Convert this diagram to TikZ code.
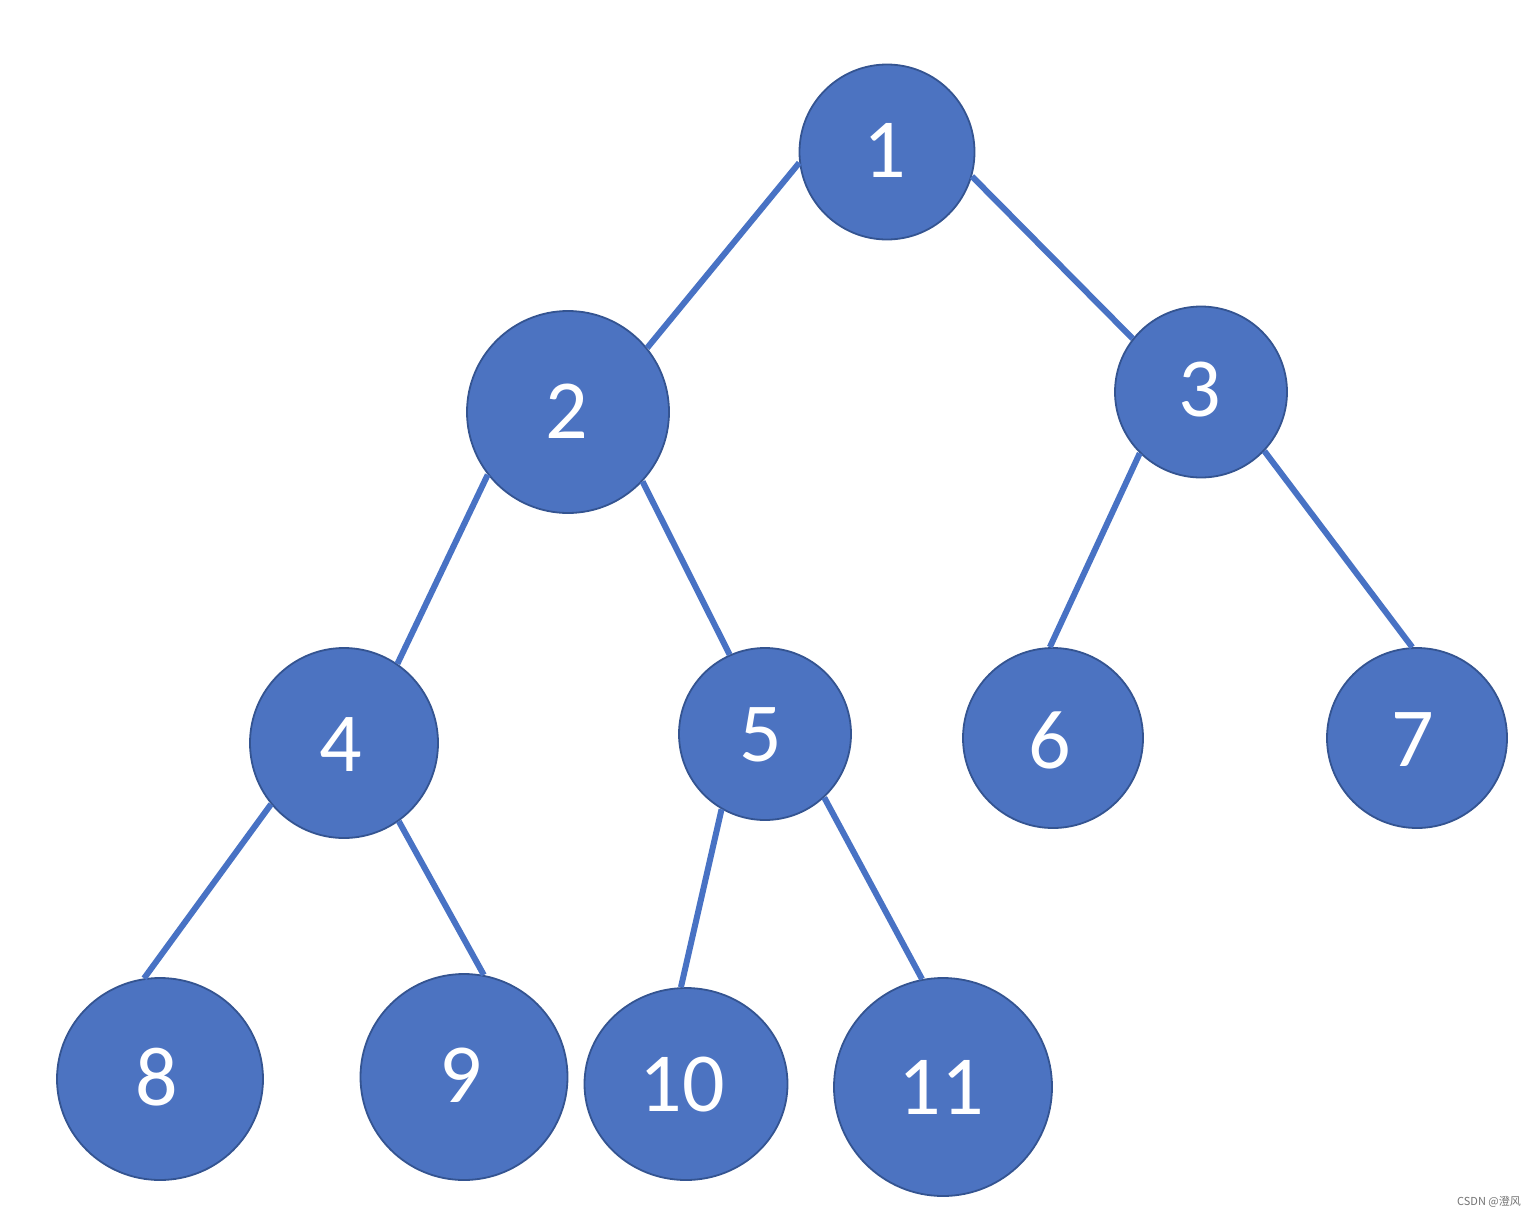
\documentclass[tikz,border=0pt]{standalone}
\usepackage{fontspec}
\setmainfont{Carlito}
\newfontfamily\cjk{Noto Sans CJK SC}
\usetikzlibrary{shapes.geometric}
\definecolor{nodefill}{RGB}{76,115,193}
\definecolor{nodeline}{RGB}{52,84,145}
\definecolor{edgecol}{RGB}{72,114,196}
\begin{document}
\begin{tikzpicture}[x=1pt,y=-1pt,
  tnode/.style={ellipse, fill=nodefill, draw=nodeline, line width=1.8pt, inner sep=0pt,
    text=white, font=\fontsize{84}{84}\selectfont},
  lbl/.style={text=white, font=\fontsize{84}{84}\selectfont, inner sep=0pt},
  edge/.style={draw=edgecol, line width=6pt}]
\useasboundingbox (0,0) rectangle (1536,1218);
\fill[white] (0,0) rectangle (1536,1218);
\node[tnode, minimum width=175pt, minimum height=175pt] (n1) at (887,152) {};
\node[tnode, minimum width=202pt, minimum height=202pt] (n2) at (568,412) {};
\node[tnode, minimum width=172pt, minimum height=171pt] (n3) at (1201,392) {};
\node[tnode, minimum width=188pt, minimum height=190pt] (n4) at (344,743) {};
\node[tnode, minimum width=172pt, minimum height=172pt] (n5) at (765,734) {};
\node[tnode, minimum width=180pt, minimum height=180pt] (n6) at (1053,738) {};
\node[tnode, minimum width=180pt, minimum height=180pt] (n7) at (1417,738) {};
\node[tnode, minimum width=206pt, minimum height=202pt] (n8) at (160,1079) {};
\node[tnode, minimum width=207pt, minimum height=206pt] (n9) at (464,1077) {};
\node[tnode, minimum width=203pt, minimum height=192pt] (n10) at (686,1084) {};
\node[tnode, minimum width=218pt, minimum height=218pt] (n11) at (943,1087) {};
\node[lbl] (t1) at (885,150) {1};
\node[lbl] (t2) at (567,411) {2};
\node[lbl] (t3) at (1200,390) {3};
\node[lbl] (t4) at (341,745) {4};
\node[lbl] (t5) at (761,735) {5};
\node[lbl] (t6) at (1050,740) {6};
\node[lbl] (t7) at (1413,740) {7};
\node[lbl] (t8) at (157,1077) {8};
\node[lbl] (t9) at (461,1075) {9};
\node[lbl] (t10) at (682,1085) {10};
\node[lbl] (t11) at (941,1087) {11};
\draw[edge] (n1.187) -- (n2.39);
\draw[edge] (n1.344) -- (n3.142);
\draw[edge] (n2.218) -- (n4.56);
\draw[edge] (n2.317) -- (n5.114);
\draw[edge] (n3.225) -- (n6.92);
\draw[edge] (n3.317) -- (n7.93);
\draw[edge] (n4.220) -- (n8.99);
\draw[edge] (n4.305) -- (n9.79);
\draw[edge] (n5.240) -- (n10.93);
\draw[edge] (n5.313) -- (n11.101);
\node[anchor=east, text=black!55, font=\cjk\fontsize{11}{11}\selectfont, inner sep=0pt] (wm) at (1521,1202) {CSDN @澄风};
\end{tikzpicture}
\end{document}
